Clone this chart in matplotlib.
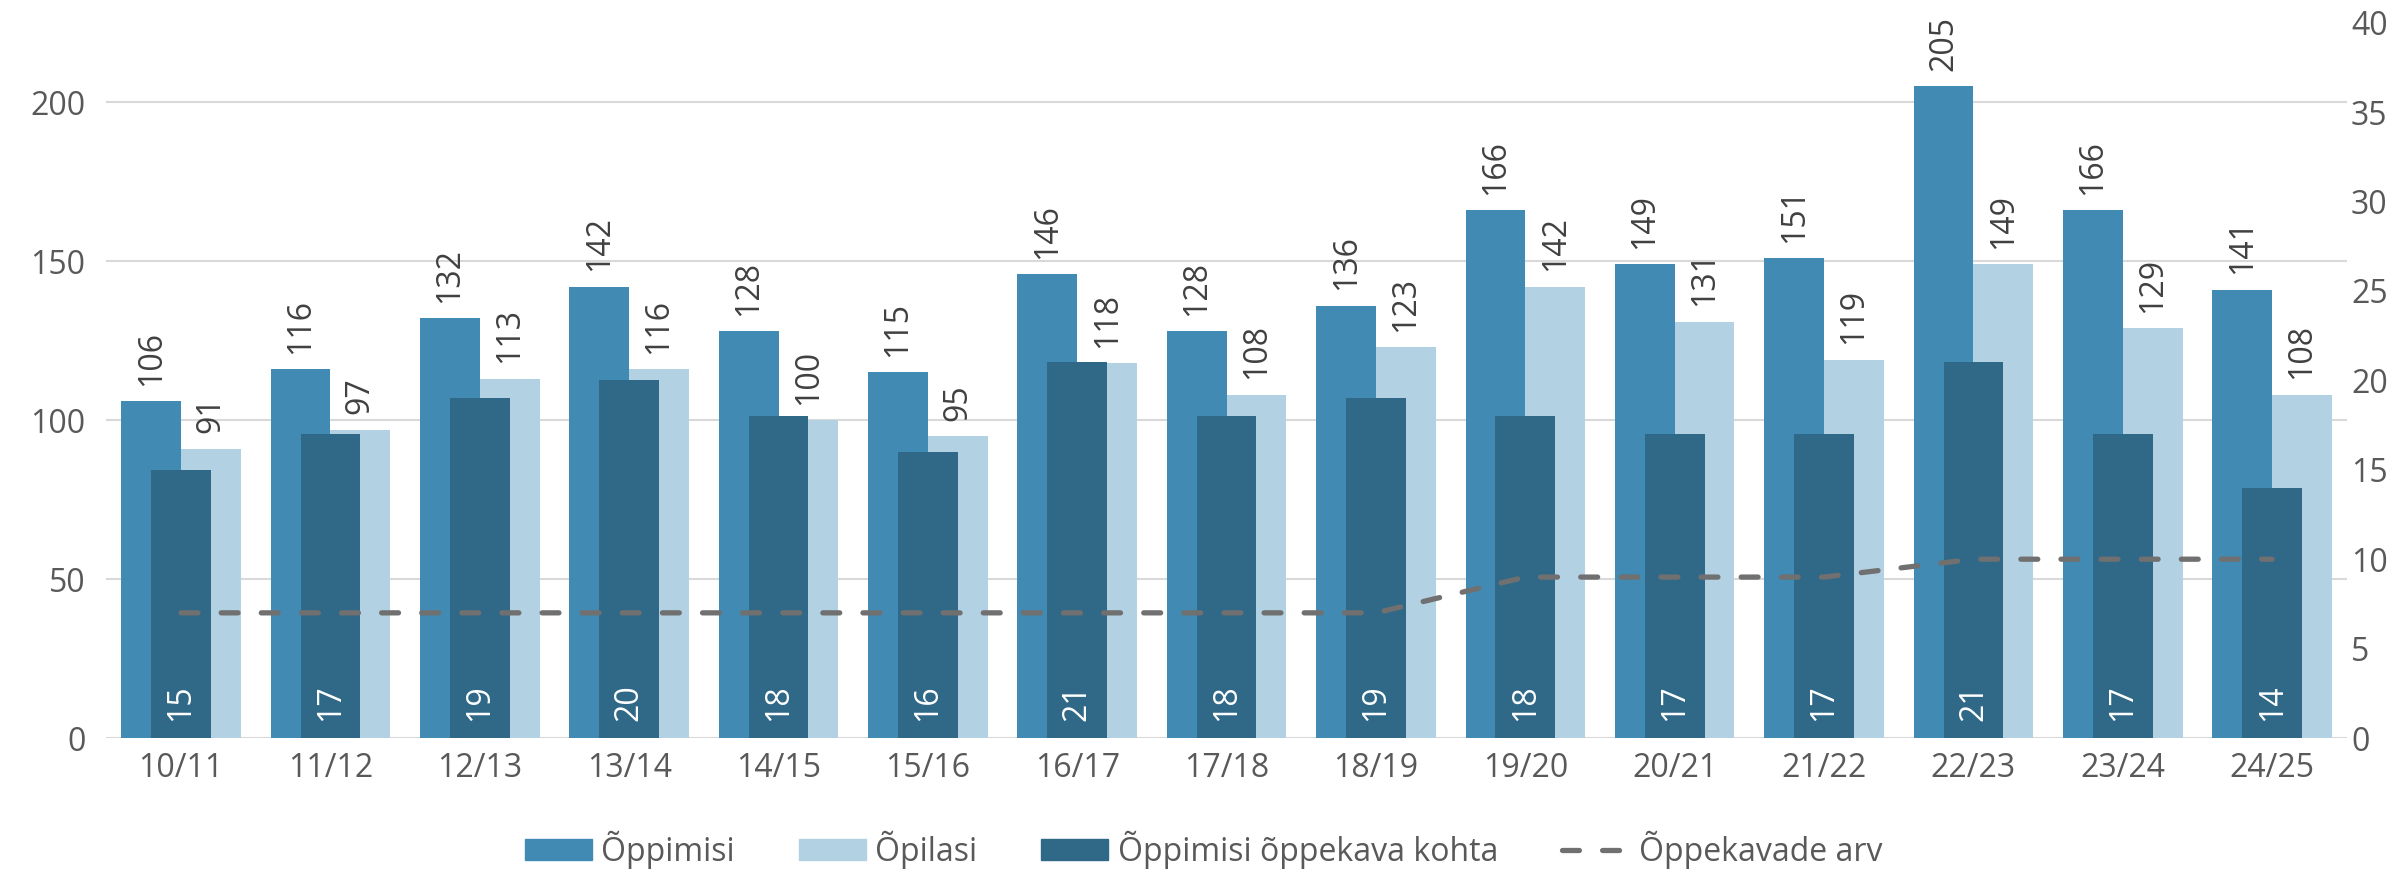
import numpy as np
import matplotlib
matplotlib.use("Agg")
import matplotlib.pyplot as plt
from matplotlib.lines import Line2D
from matplotlib.patches import Patch

plt.rcParams['font.family'] = ['Open Sans', 'DejaVu Sans']

# data
years = ["10/11", "11/12", "12/13", "13/14", "14/15", "15/16", "16/17", "17/18",
         "18/19", "19/20", "20/21", "21/22", "22/23", "23/24", "24/25"]
oppimisi = [106, 116, 132, 142, 128, 115, 146, 128, 136, 166, 149, 151, 205, 166, 141]
opilasi = [91, 97, 113, 116, 100, 95, 118, 108, 123, 142, 131, 119, 149, 129, 108]
kohta = [15, 17, 19, 20, 18, 16, 21, 18, 19, 18, 17, 17, 21, 17, 14]
kavad = [7, 7, 7, 7, 7, 7, 7, 7, 7, 9, 9, 9, 10, 10, 10]

c_mid = "#418AB3"
c_light = "#B2D1E2"
c_dark = "#306887"
c_line = "#707070"
c_text = "#595959"
fs = 23

fig = plt.figure(figsize=(24.07, 8.73), dpi=100)
ax = fig.add_axes([0.0442, 0.1546, 0.9308, 0.8194])
ax2 = ax.twinx()

x = np.arange(len(years))
w = 0.4
dash = (3.2, 4.4)

ax.bar(x - w / 2, oppimisi, w, color=c_mid, zorder=2)
ax.bar(x + w / 2, opilasi, w, color=c_light, zorder=2)
ax2.bar(x, kohta, w, color=c_dark, zorder=2)
ax2.plot(x, kavad, color=c_line, lw=3.8, zorder=3, dashes=dash, dash_capstyle="round")

ax.set_xlim(-0.5, len(years) - 0.5)
ax.set_ylim(0, 225)
ax2.set_ylim(0, 40)
ax.set_yticks([0, 50, 100, 150, 200])
ax2.set_yticks(range(0, 41, 5))
ax.set_xticks(x)
ax.set_xticklabels(years)

ax.grid(axis="y", color="#D9D9D9", lw=1.5, zorder=0)
ax.set_axisbelow(True)
for a in (ax, ax2):
    for s in a.spines.values():
        s.set_visible(False)
    a.tick_params(length=0, labelsize=fs, colors=c_text)
ax.tick_params(axis="y", pad=15)
ax.tick_params(axis="x", pad=10)
ax2.tick_params(axis="y", pad=3)

# value labels
for xi, v in zip(x - w / 2, oppimisi):
    ax.annotate(str(v), (xi, v), xytext=(0, 11), textcoords="offset points",
                rotation=90, ha="center", va="bottom", fontsize=fs, color="#404040")
for xi, v in zip(x + w / 2, opilasi):
    ax.annotate(str(v), (xi, v), xytext=(0, 11), textcoords="offset points",
                rotation=90, ha="center", va="bottom", fontsize=fs, color="#404040")
for xi, v in zip(x, kohta):
    ax2.annotate(str(v), (xi, 0), xytext=(0, 12), textcoords="offset points",
                 rotation=90, ha="center", va="bottom", fontsize=fs, color="white",
                 zorder=4)

handles = [Patch(color=c_mid), Patch(color=c_light), Patch(color=c_dark),
           Line2D([], [], color=c_line, lw=3.8, dashes=dash, dash_capstyle="round")]
labels = ["Õppimisi", "Õpilasi", "Õppimisi õppekava kohta", "Õppekavade arv"]
leg = fig.legend(handles, labels, loc="lower center", bbox_to_anchor=(0.5, -0.028),
                 ncol=4, frameon=False, fontsize=fs, handlelength=2.1,
                 handleheight=0.63, columnspacing=2.0, handletextpad=0.3)
for t in leg.get_texts():
    t.set_color(c_text)

fig.savefig("out.png", dpi=100)
